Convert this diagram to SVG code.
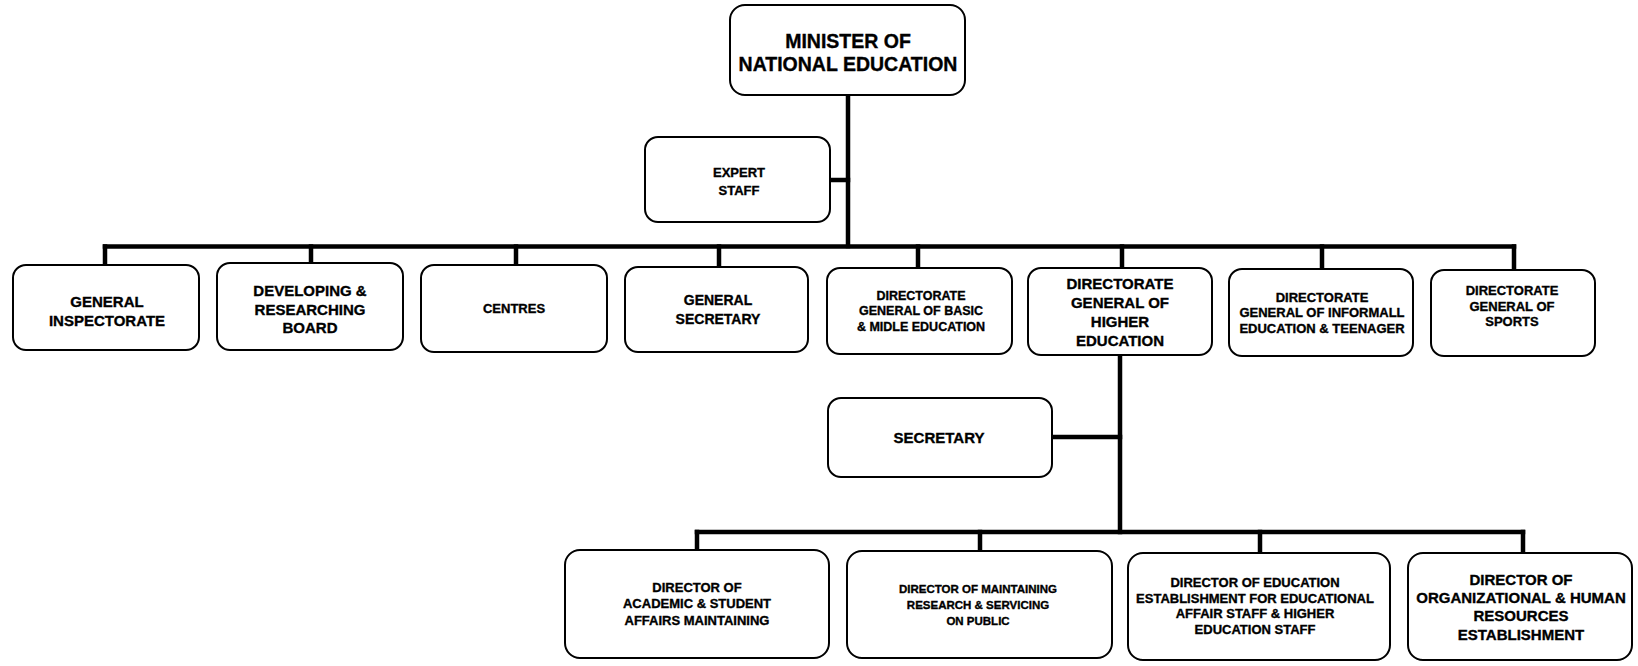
<svg xmlns="http://www.w3.org/2000/svg" width="1638" height="666" viewBox="0 0 1638 666">
  <style>
    .box { fill: #ffffff; stroke: #000000; stroke-width: 2; }
    .wire { fill: none; stroke: #000000; stroke-width: 4.5; stroke-linecap: square; }
    text { font-family: "Liberation Sans", Arial, sans-serif; font-weight: bold; fill: #000000; stroke: #000000; stroke-width: 0.35; text-anchor: middle; }
    .t20 { font-size: 19.5px; }
    .t15 { font-size: 15px; }
    .t14 { font-size: 14px; }
    .t13 { font-size: 13px; }
    .t12 { font-size: 12.5px; }
    .t11 { font-size: 11.5px; }
  </style>
  <rect width="1638" height="666" fill="#ffffff"/>

  <!-- connectors -->
  <g id="connectors">
    <!-- minister trunk and expert staff tap -->
    <path class="wire" d="M848 95 V246"/>
    <path class="wire" d="M830 180 H848"/>
    <!-- first-level bus and drops -->
    <path class="wire" d="M105 246.5 H1514"/>
    <path class="wire" d="M105 246.5 V265"/>
    <path class="wire" d="M311 246.5 V263"/>
    <path class="wire" d="M516 246.5 V265"/>
    <path class="wire" d="M719 246.5 V267"/>
    <path class="wire" d="M918 246.5 V268"/>
    <path class="wire" d="M1122 246.5 V268"/>
    <path class="wire" d="M1322 246.5 V269"/>
    <path class="wire" d="M1514 246.5 V270"/>
    <!-- higher education trunk and secretary tap -->
    <path class="wire" d="M1120 355 V532"/>
    <path class="wire" d="M1052 437 H1120"/>
    <!-- second-level bus and drops -->
    <path class="wire" d="M697 532 H1523"/>
    <path class="wire" d="M697 532 V550"/>
    <path class="wire" d="M980 532 V551"/>
    <path class="wire" d="M1260 532 V553"/>
    <path class="wire" d="M1523 532 V553"/>
  </g>

  <g id="minister">
    <rect class="box" x="730" y="5" width="235" height="90" rx="15"/>
    <text class="t20" x="848" y="48">MINISTER OF</text>
    <text class="t20" x="848" y="71">NATIONAL EDUCATION</text>
  </g>

  <g id="expert-staff">
    <rect class="box" x="645" y="137" width="185" height="85" rx="13"/>
    <text class="t13" x="739" y="177">EXPERT</text>
    <text class="t13" x="739" y="195">STAFF</text>
  </g>

  <g id="general-inspectorate">
    <rect class="box" x="13" y="265" width="186" height="85" rx="13"/>
    <text class="t15" x="107" y="307">GENERAL</text>
    <text class="t15" x="107" y="326">INSPECTORATE</text>
  </g>

  <g id="developing-board">
    <rect class="box" x="217" y="263" width="186" height="87" rx="13"/>
    <text class="t15" x="310" y="296">DEVELOPING &amp;</text>
    <text class="t15" x="310" y="315">RESEARCHING</text>
    <text class="t15" x="310" y="333">BOARD</text>
  </g>

  <g id="centres">
    <rect class="box" x="421" y="265" width="186" height="87" rx="13"/>
    <text class="t13" x="514" y="313">CENTRES</text>
  </g>

  <g id="general-secretary">
    <rect class="box" x="625" y="267" width="183" height="85" rx="13"/>
    <text class="t14" x="718" y="305">GENERAL</text>
    <text class="t14" x="718" y="324">SECRETARY</text>
  </g>

  <g id="dg-basic">
    <rect class="box" x="827" y="268" width="185" height="86" rx="13"/>
    <text class="t12" x="921" y="300">DIRECTORATE</text>
    <text class="t12" x="921" y="315">GENERAL OF BASIC</text>
    <text class="t12" x="921" y="331">&amp; MIDLE EDUCATION</text>
  </g>

  <g id="dg-higher">
    <rect class="box" x="1028" y="268" width="184" height="87" rx="13"/>
    <text class="t15" x="1120" y="289">DIRECTORATE</text>
    <text class="t15" x="1120" y="308">GENERAL OF</text>
    <text class="t15" x="1120" y="327">HIGHER</text>
    <text class="t15" x="1120" y="346">EDUCATION</text>
  </g>

  <g id="dg-informal">
    <rect class="box" x="1229" y="269" width="184" height="87" rx="13"/>
    <text class="t13" x="1322" y="302">DIRECTORATE</text>
    <text class="t13" x="1322" y="317">GENERAL OF INFORMALL</text>
    <text class="t13" x="1322" y="333">EDUCATION &amp; TEENAGER</text>
  </g>

  <g id="dg-sports">
    <rect class="box" x="1431" y="270" width="164" height="86" rx="13"/>
    <text class="t13" x="1512" y="295">DIRECTORATE</text>
    <text class="t13" x="1512" y="311">GENERAL OF</text>
    <text class="t13" x="1512" y="326">SPORTS</text>
  </g>

  <g id="secretary">
    <rect class="box" x="828" y="398" width="224" height="79" rx="13"/>
    <text class="t15" x="939" y="443">SECRETARY</text>
  </g>

  <g id="director-academic">
    <rect class="box" x="565" y="550" width="264" height="108" rx="15"/>
    <text class="t13" x="697" y="592">DIRECTOR OF</text>
    <text class="t13" x="697" y="608">ACADEMIC &amp; STUDENT</text>
    <text class="t13" x="697" y="625">AFFAIRS MAINTAINING</text>
  </g>

  <g id="director-research">
    <rect class="box" x="847" y="551" width="265" height="107" rx="15"/>
    <text class="t11" x="978" y="593">DIRECTOR OF MAINTAINING</text>
    <text class="t11" x="978" y="609">RESEARCH &amp; SERVICING</text>
    <text class="t11" x="978" y="625">ON PUBLIC</text>
  </g>

  <g id="director-staff">
    <rect class="box" x="1128" y="553" width="262" height="107" rx="15"/>
    <text class="t13" x="1255" y="587">DIRECTOR OF EDUCATION</text>
    <text class="t13" x="1255" y="603">ESTABLISHMENT FOR EDUCATIONAL</text>
    <text class="t13" x="1255" y="618">AFFAIR STAFF &amp; HIGHER</text>
    <text class="t13" x="1255" y="634">EDUCATION STAFF</text>
  </g>

  <g id="director-organizational">
    <rect class="box" x="1408" y="553" width="224" height="107" rx="15"/>
    <text class="t15" x="1521" y="585">DIRECTOR OF</text>
    <text class="t15" x="1521" y="603">ORGANIZATIONAL &amp; HUMAN</text>
    <text class="t15" x="1521" y="621">RESOURCES</text>
    <text class="t15" x="1521" y="640">ESTABLISHMENT</text>
  </g>
</svg>
